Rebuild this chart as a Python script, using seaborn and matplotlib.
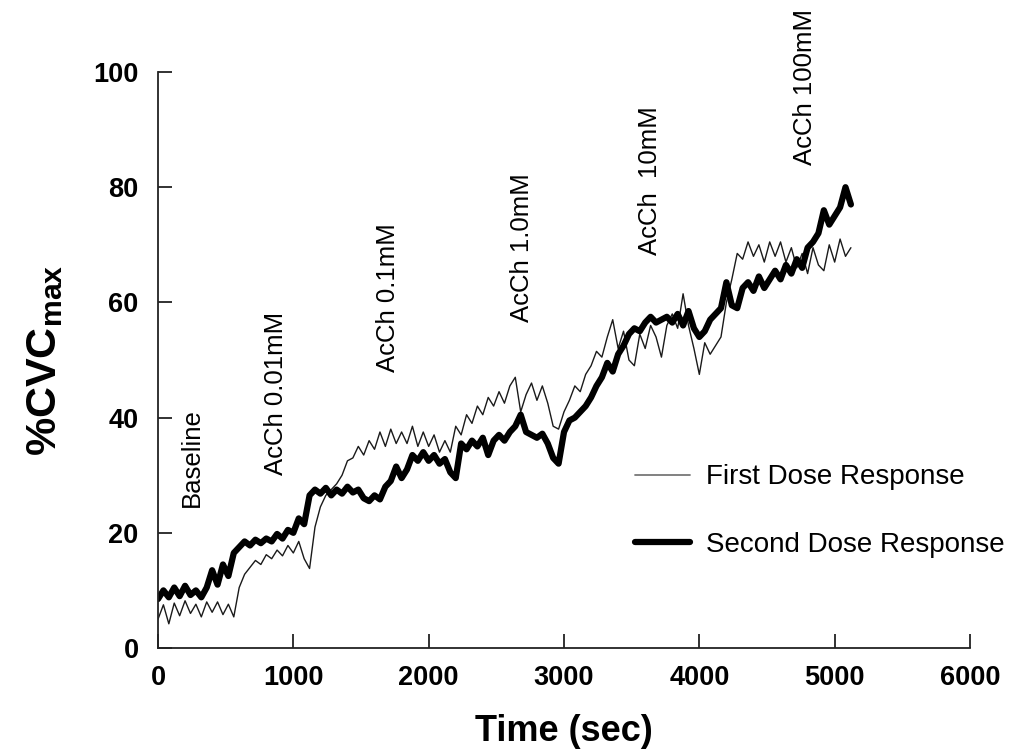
import matplotlib
matplotlib.use("Agg")
import matplotlib.pyplot as plt
import seaborn as sns
import pandas as pd

# ---------------- data ----------------
time_sec = [
    0, 40, 80, 120, 160, 200, 240, 280, 320, 360,
    400, 440, 480, 520, 560, 600, 640, 680, 720, 760,
    800, 840, 880, 920, 960, 1000, 1040, 1080, 1120, 1160,
    1200, 1240, 1280, 1320, 1360, 1400, 1440, 1480, 1520, 1560,
    1600, 1640, 1680, 1720, 1760, 1800, 1840, 1880, 1920, 1960,
    2000, 2040, 2080, 2120, 2160, 2200, 2240, 2280, 2320, 2360,
    2400, 2440, 2480, 2520, 2560, 2600, 2640, 2680, 2720, 2760,
    2800, 2840, 2880, 2920, 2960, 3000, 3040, 3080, 3120, 3160,
    3200, 3240, 3280, 3320, 3360, 3400, 3440, 3480, 3520, 3560,
    3600, 3640, 3680, 3720, 3760, 3800, 3840, 3880, 3920, 3960,
    4000, 4040, 4080, 4120, 4160, 4200, 4240, 4280, 4320, 4360,
    4400, 4440, 4480, 4520, 4560, 4600, 4640, 4680, 4720, 4760,
    4800, 4840, 4880, 4920, 4960, 5000, 5040, 5080, 5120,
]

first_dose = [
    5.0, 7.5, 4.2, 7.8, 5.6, 8.2, 6.0, 7.6, 5.4, 8.0,
    6.2, 8.0, 5.8, 7.6, 5.4, 10.5, 12.8, 14.0, 15.2, 14.5,
    16.2, 15.5, 17.0, 16.0, 17.8, 16.5, 18.5, 15.5, 13.8, 21.0,
    24.5, 26.5, 27.5, 28.5, 30.0, 32.5, 33.0, 35.0, 33.5, 36.0,
    34.5, 37.5, 35.0, 38.0, 35.5, 37.5, 35.5, 38.5, 35.0, 37.5,
    35.0, 37.0, 34.0, 36.0, 34.0, 38.5, 37.0, 40.5, 39.0, 42.0,
    40.5, 43.5, 42.0, 44.5, 42.5, 45.5, 47.0, 41.0, 44.0, 46.0,
    43.0, 45.5, 42.5, 38.5, 38.0, 41.0, 43.0, 45.5, 44.5, 47.5,
    49.0, 51.5, 50.5, 54.0, 57.0, 52.0, 55.0, 50.0, 49.0, 54.5,
    52.0, 56.0, 54.0, 50.5, 56.0, 58.0, 55.5, 61.5, 56.0, 52.0,
    47.5, 53.0, 51.0, 52.5, 54.0, 60.0, 64.0, 68.5, 67.5, 70.5,
    68.0, 70.0, 67.0, 70.5, 68.0, 70.5, 67.0, 69.5, 66.0, 68.5,
    65.0, 69.5, 66.5, 65.5, 70.0, 67.0, 71.0, 68.0, 69.5,
]

second_dose = [
    8.5, 10.0, 8.8, 10.5, 9.0, 10.8, 9.2, 10.0, 8.8, 10.5,
    13.5, 11.0, 14.5, 12.5, 16.5, 17.5, 18.5, 17.8, 18.8, 18.2,
    19.0, 18.5, 19.8, 19.0, 20.5, 20.0, 22.5, 21.5, 26.5, 27.5,
    26.8, 27.8, 26.5, 27.5, 26.8, 28.0, 27.0, 27.5, 26.0, 25.5,
    26.5, 25.8, 28.0, 29.0, 31.5, 29.5, 31.0, 33.5, 32.5, 34.0,
    32.5, 33.5, 32.0, 32.8, 30.5, 29.5, 35.5, 34.5, 36.0, 35.0,
    36.5, 33.5, 36.0, 37.0, 36.0, 37.5, 38.5, 40.5, 37.5, 37.0,
    36.5, 37.2, 35.5, 33.0, 32.0, 37.5, 39.5, 40.0, 41.0, 42.0,
    43.5, 45.5, 47.0, 49.5, 48.0, 51.0, 52.5, 54.5, 55.5, 55.0,
    56.5, 57.5, 56.5, 57.0, 57.5, 56.5, 58.0, 56.0, 58.5, 55.5,
    54.0, 55.0, 57.0, 58.0, 59.0, 63.5, 59.5, 59.0, 62.5, 63.5,
    62.0, 64.5, 62.5, 64.0, 65.5, 64.0, 66.5, 65.0, 67.5, 66.0,
    69.5, 70.5, 72.0, 76.0, 73.5, 75.0, 76.5, 80.0, 77.0,
]

series_labels = ["First Dose Response", "Second Dose Response"]

annotation_labels = ["Baseline", "AcCh 0.01mM", "AcCh 0.1mM",
                     "AcCh 1.0mM", "AcCh  10mM", "AcCh 100mM"]
annotation_x = [251, 872, 1700, 2690, 3636, 4782]
annotation_y = [24.5, 30.0, 47.9, 56.6, 68.2, 83.9]

x_ticks = [0, 1000, 2000, 3000, 4000, 5000, 6000]
y_ticks = [0, 20, 40, 60, 80, 100]

# ---------------- style ----------------
sns.set_style("ticks")
plt.rcParams["font.family"] = ["Liberation Sans", "DejaVu Sans"]
plt.rcParams["mathtext.fontset"] = "custom"
plt.rcParams["mathtext.rm"] = "Liberation Sans"
plt.rcParams["mathtext.bf"] = "Liberation Sans:bold"
plt.rcParams["text.color"] = "black"
plt.rcParams["axes.labelcolor"] = "black"
plt.rcParams["xtick.color"] = "black"
plt.rcParams["ytick.color"] = "black"

fig = plt.figure(figsize=(10.21, 7.56), dpi=100)
ax = fig.add_axes([158 / 1021, 1 - 648 / 756, (970 - 158) / 1021, (648 - 72) / 756])

df1 = pd.DataFrame({"t": time_sec, "v": first_dose})
df2 = pd.DataFrame({"t": time_sec, "v": second_dose})

sns.lineplot(data=df1, x="t", y="v", ax=ax, color="#1a1a1a", linewidth=1.0,
             label=series_labels[0])
sns.lineplot(data=df2, x="t", y="v", ax=ax, color="black", linewidth=4.5,
             label=series_labels[1], solid_joinstyle="round", solid_capstyle="round")

for lab, xx, yy in zip(annotation_labels, annotation_x, annotation_y):
    ax.text(xx, yy, lab, rotation=90, ha="center", va="bottom",
            fontsize=18.5, color="black")

ax.set_xlim(0, 6000)
ax.set_ylim(0, 100)
ax.set_xticks(x_ticks)
ax.set_yticks(y_ticks)
ax.set_xticklabels([str(v) for v in x_ticks], fontsize=19.5, fontweight="bold")
ax.set_yticklabels([str(v) for v in y_ticks], fontsize=19.5, fontweight="bold")

for side in ["top", "right"]:
    ax.spines[side].set_visible(False)
for side in ["left", "bottom"]:
    ax.spines[side].set_linewidth(1.3)
    ax.spines[side].set_color("#222222")

ax.tick_params(axis="both", direction="in", length=10, width=1.3, color="#222222")
ax.tick_params(axis="x", pad=12)
ax.tick_params(axis="y", pad=14)

ax.set_xlabel("Time (sec)", fontsize=26, fontweight="bold")
ax.set_ylabel(r"$\mathbf{\%CVC}_{\mathbf{max}}$", fontsize=31)
ax.xaxis.set_label_coords(0.5, -0.115)
ax.yaxis.set_label_coords(-0.115, 0.5)

leg = ax.legend(loc="upper left", bbox_to_anchor=(0.587, 0.319), frameon=False,
                fontsize=20, handlelength=1.98, handletextpad=0.6,
                labelspacing=1.5, borderpad=0, borderaxespad=0)
leg.get_lines()[0].set_color("#777777")
leg.get_lines()[0].set_linewidth(1.3)

fig.savefig("out.png", dpi=100)
